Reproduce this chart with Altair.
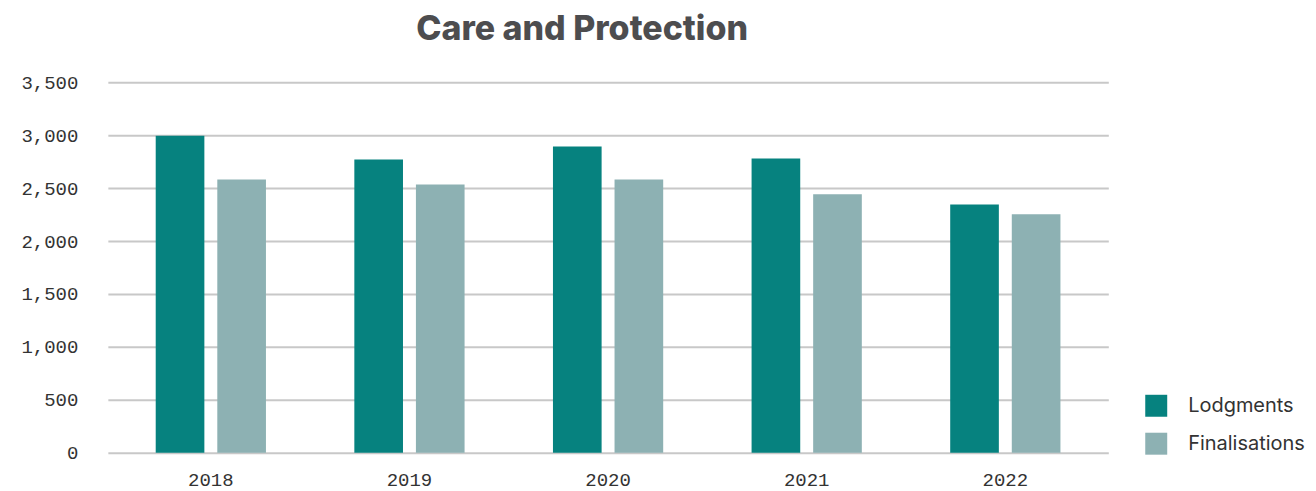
import altair as alt
import pandas as pd

years = ["2018", "2019", "2020", "2021", "2022"]
lodgments = [2995, 2770, 2893, 2780, 2346]
finalisations = [2582, 2535, 2582, 2441, 2252]
series = ["Lodgments", "Finalisations"]
colors = ["#06827F", "#8DB1B3"]

rows = []
for i, y in enumerate(years):
    rows.append({"year": y, "series": series[0], "value": lodgments[i]})
    rows.append({"year": y, "series": series[1], "value": finalisations[i]})
df = pd.DataFrame(rows)

chart = alt.Chart(df).mark_bar().encode(
    x=alt.X("year:N", title=None,
            scale=alt.Scale(paddingInner=0.445, paddingOuter=0.241),
            axis=alt.Axis(labelAngle=0, ticks=False, domain=False, grid=False,
                          labelFont="Liberation Mono", labelFontSize=19,
                          labelColor="#333333", labelPadding=18)),
    xOffset=alt.XOffset("series:N", sort=series,
                        scale=alt.Scale(paddingInner=0.21, paddingOuter=0)),
    y=alt.Y("value:Q", title=None,
            scale=alt.Scale(domain=[0, 3500]),
            axis=alt.Axis(values=[0, 500, 1000, 1500, 2000, 2500, 3000, 3500],
                          format=",d", ticks=False, domain=False,
                          labelFont="Liberation Mono", labelFontSize=19,
                          labelColor="#333333", labelPadding=30,
                          gridColor="#C8C8C8", gridWidth=2)),
    color=alt.Color("series:N", sort=series,
                    scale=alt.Scale(domain=series, range=colors),
                    legend=alt.Legend(title=None, orient="none", legendX=1039, legendY=313,
                                      symbolType="square", symbolSize=484,
                                      symbolStrokeWidth=0,
                                      labelFont="Inter", labelFontSize=20,
                                      labelColor="#333333", labelOffset=21,
                                      rowPadding=16)),
).properties(
    width=1002,
    height=371,
    title=alt.TitleParams("Care and Protection", font="Inter", fontSize=34,
                          fontWeight=800, color="#4D4D4F", anchor="middle",
                          dx=-26, offset=26),
    autosize=alt.AutoSizeParams(type="none"),
    padding={"left": 100, "top": 74, "right": 200, "bottom": 40},
).configure_view(stroke=None)

chart.save("out.html", embed_options={"renderer": "svg", "actions": False})
